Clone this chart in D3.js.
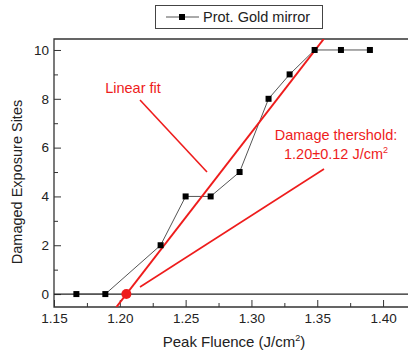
<!DOCTYPE html>
<html>
<head>
<meta charset="utf-8">
<script src="https://cdn.jsdelivr.net/npm/d3@7"></script>
<style>
  body { margin: 0; background: #fff; }
  svg { display: block; font-family: "Liberation Sans", Arial, sans-serif; }
</style>
</head>
<body>
<svg width="408" height="351"></svg>
<script>
// measured points (Peak fluence vs damaged sites)
const fluence = [1.167, 1.189, 1.231, 1.250, 1.269, 1.291, 1.313, 1.329, 1.348, 1.368, 1.390];
const damaged = [0, 0, 2, 4, 4, 5, 8, 9, 10, 10, 10];

// linear fit: sites = slope * (F - threshold)
const threshold = 1.205;
const slope = 69.7;

const xTicks = [1.15, 1.20, 1.25, 1.30, 1.35, 1.40];
const yTicks = [0, 2, 4, 6, 8, 10];

const margin = {top: 39, right: -6, bottom: 44, left: 54};
const width = 408, height = 351;

const svg = d3.select("svg");

const x = d3.scaleLinear().domain([1.15, 1.4235]).range([margin.left, width - margin.right]);
const y = d3.scaleLinear().domain([-0.53, 10.45]).range([height - margin.bottom, margin.top]);

const red = "#ee1c1c";

svg.append("clipPath").attr("id", "plot")
  .append("rect")
  .attr("x", margin.left).attr("y", margin.top)
  .attr("width", x.range()[1] - margin.left)
  .attr("height", y.range()[0] - margin.top);

// bottom axis, ticks inward
const xAxis = svg.append("g")
  .attr("transform", `translate(0,${y.range()[0]})`)
  .call(d3.axisBottom(x).tickValues(xTicks).tickSize(-7).tickPadding(6).tickFormat(d3.format(".2f")));
xAxis.select(".domain").remove();
xAxis.selectAll("text").attr("font-size", 13.5).attr("fill", "#222");
xAxis.selectAll(".tick line").attr("stroke", "#333");
svg.append("g")
  .attr("transform", `translate(0,${y.range()[0]})`)
  .call(d3.axisBottom(x).tickValues(d3.range(1.175, 1.42, 0.05)).tickSize(-4).tickFormat(""))
  .call(g => g.select(".domain").remove())
  .selectAll(".tick line").attr("stroke", "#333");

// left axis, ticks inward
const yAxis = svg.append("g")
  .attr("transform", `translate(${margin.left},0)`)
  .call(d3.axisLeft(y).tickValues(yTicks).tickSize(-7).tickPadding(5));
yAxis.select(".domain").remove();
yAxis.selectAll("text").attr("font-size", 13.5).attr("fill", "#222");
yAxis.selectAll(".tick line").attr("stroke", "#333");
svg.append("g")
  .attr("transform", `translate(${margin.left},0)`)
  .call(d3.axisLeft(y).tickValues([1, 3, 5, 7, 9]).tickSize(-4).tickFormat(""))
  .call(g => g.select(".domain").remove())
  .selectAll(".tick line").attr("stroke", "#333");

// frame
svg.append("path")
  .attr("d", `M${x.range()[1] + 2},${margin.top}H${margin.left}V${y.range()[0]}H${x.range()[1] + 2}`)
  .attr("fill", "none").attr("stroke", "#333").attr("stroke-width", 1.3);

// zero line
svg.append("line")
  .attr("x1", margin.left).attr("x2", width)
  .attr("y1", y(0)).attr("y2", y(0))
  .attr("stroke", "#222").attr("stroke-width", 1.2);

const plot = svg.append("g").attr("clip-path", "url(#plot)");

// data line and markers
const pts = fluence.map((f, i) => [f, damaged[i]]);
plot.append("path")
  .datum(pts)
  .attr("fill", "none").attr("stroke", "#555").attr("stroke-width", 1)
  .attr("d", d3.line().x(d => x(d[0])).y(d => y(d[1])));

// fit line
const fitX = [threshold + y.domain()[0] / slope, threshold + y.domain()[1] / slope];
plot.append("line")
  .attr("x1", x(fitX[0])).attr("y1", y(y.domain()[0]))
  .attr("x2", x(fitX[1])).attr("y2", y(y.domain()[1]))
  .attr("stroke", red).attr("stroke-width", 2);

plot.selectAll("rect.pt")
  .data(pts).join("rect").attr("class", "pt")
  .attr("x", d => x(d[0]) - 3).attr("y", d => y(d[1]) - 3)
  .attr("width", 6).attr("height", 6).attr("fill", "#000");

plot.append("circle")
  .attr("cx", x(threshold)).attr("cy", y(0)).attr("r", 5)
  .attr("fill", red);

// annotations
svg.append("text").attr("x", 133).attr("y", 93).attr("text-anchor", "middle")
  .attr("font-size", 14.5).attr("fill", red).text("Linear fit");
svg.append("line").attr("x1", 140).attr("y1", 100).attr("x2", 207).attr("y2", 172)
  .attr("stroke", red).attr("stroke-width", 1.6);

svg.append("text").attr("x", 336).attr("y", 140).attr("text-anchor", "middle")
  .attr("font-size", 14.5).attr("fill", red).text("Damage thershold:");
const t2 = svg.append("text").attr("x", 336).attr("y", 159).attr("text-anchor", "middle")
  .attr("font-size", 14.5).attr("fill", red);
t2.append("tspan").text("1.20±0.12 J/cm");
t2.append("tspan").attr("font-size", 9).attr("dy", -6).text("2");
svg.append("line").attr("x1", 324).attr("y1", 169).attr("x2", 140).attr("y2", 287)
  .attr("stroke", red).attr("stroke-width", 1.6);

// legend
svg.append("rect").attr("x", 155.5).attr("y", 5.5).attr("width", 167).attr("height", 23)
  .attr("fill", "#fff").attr("stroke", "#444").attr("stroke-width", 1);
svg.append("line").attr("x1", 166).attr("x2", 199).attr("y1", 17).attr("y2", 17)
  .attr("stroke", "#555").attr("stroke-width", 1);
svg.append("rect").attr("x", 179).attr("y", 14).attr("width", 6).attr("height", 6).attr("fill", "#000");
svg.append("text").attr("x", 203).attr("y", 22).attr("font-size", 14.5).attr("fill", "#222")
  .text("Prot. Gold mirror");

// axis titles
const xt = svg.append("text").attr("x", 234).attr("y", 347).attr("text-anchor", "middle")
  .attr("font-size", 15).attr("fill", "#222");
xt.append("tspan").text("Peak Fluence (J/cm");
xt.append("tspan").attr("font-size", 9).attr("dy", -6).text("2");
xt.append("tspan").attr("dy", 6).text(")");

svg.append("text").attr("transform", "translate(22,182) rotate(-90)").attr("text-anchor", "middle")
  .attr("font-size", 14.5).attr("fill", "#222").text("Damaged Exposure Sites");
</script>
</body>
</html>
